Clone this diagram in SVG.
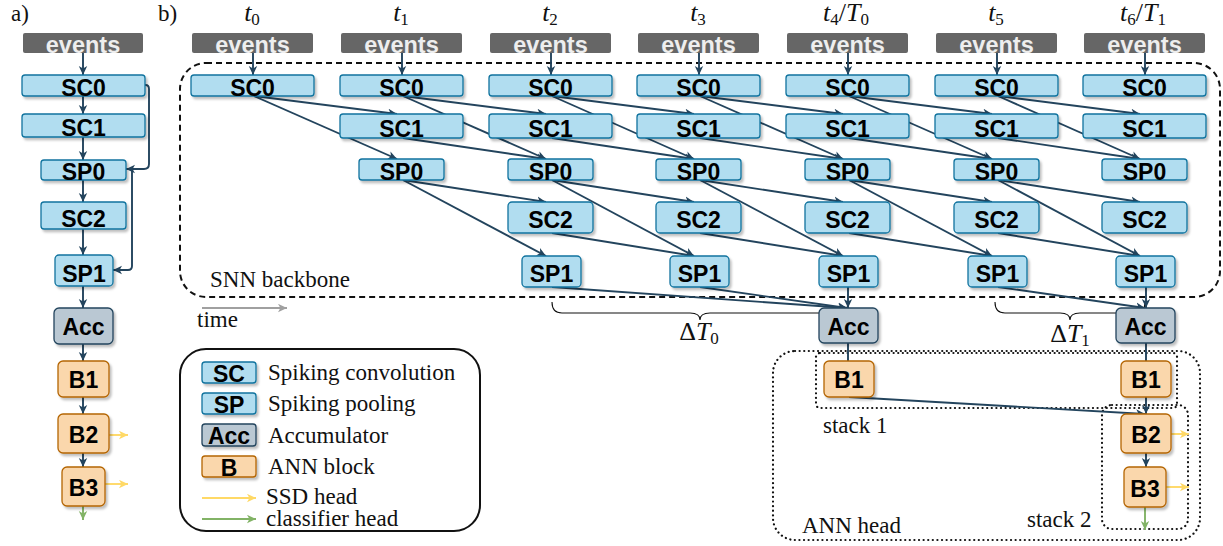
<svg xmlns="http://www.w3.org/2000/svg" width="1223" height="546" viewBox="0 0 1223 546">
<style>
.sc{fill:#b1ddf0;stroke:#10739e;stroke-width:1.3;filter:url(#sh)}
.acc{fill:#bac8d3;stroke:#23445d;stroke-width:1.3;filter:url(#sh)}
.bb{fill:#fad7ac;stroke:#b46504;stroke-width:1.3;filter:url(#sh)}
.ev{fill:#666666;stroke:none}
.lb{font-family:"Liberation Sans",Arial,sans-serif;font-weight:bold;font-size:23px;text-anchor:middle;fill:#000}
.evt{font-family:"Liberation Sans",Arial,sans-serif;font-weight:bold;font-size:23.5px;text-anchor:middle;fill:#eeeeee}
.tx{font-family:"Liberation Serif","Times New Roman",serif;font-size:23px;fill:#111}
.mt{font-family:"Liberation Serif","Times New Roman",serif;font-size:26px;fill:#111;text-anchor:middle}
.c{fill:none;stroke:#23445d;stroke-width:1.9;marker-end:url(#ad)}
.cp{fill:none;stroke:#23445d;stroke-width:1.9}
.cy{fill:none;stroke:#ffd966;stroke-width:1.9;marker-end:url(#ay)}
.cg{fill:none;stroke:#82b366;stroke-width:1.9;marker-end:url(#ag)}
.dot{fill:none;stroke:#111;stroke-width:2.2;stroke-dasharray:0.1 4.5;stroke-linecap:round}
</style>
<defs>
<filter id="sh" x="-20%" y="-20%" width="150%" height="160%"><feDropShadow dx="2" dy="2.5" stdDeviation="0.8" flood-color="#000" flood-opacity="0.25"/></filter>
<marker id="ad" markerWidth="10" markerHeight="10" refX="9" refY="4.5" orient="auto" markerUnits="userSpaceOnUse"><path d="M0,0.3 L9,4.5 L0,8.7 L2.4,4.5 Z" fill="#23445d"/></marker>
<marker id="ay" markerWidth="10" markerHeight="10" refX="9" refY="4.5" orient="auto" markerUnits="userSpaceOnUse"><path d="M0,0.3 L9,4.5 L0,8.7 L2.4,4.5 Z" fill="#ffd966"/></marker>
<marker id="ag" markerWidth="10" markerHeight="10" refX="9" refY="4.5" orient="auto" markerUnits="userSpaceOnUse"><path d="M0,0.3 L9,4.5 L0,8.7 L2.4,4.5 Z" fill="#82b366"/></marker>
<marker id="agr" markerWidth="10" markerHeight="10" refX="9" refY="4.5" orient="auto" markerUnits="userSpaceOnUse"><path d="M0,0.3 L9,4.5 L0,8.7 L2.4,4.5 Z" fill="#a0a0a0"/></marker>
</defs>
<rect width="1223" height="546" fill="#ffffff"/>

<!-- panel labels -->
<text class="tx" x="11" y="21" font-size="22">a)</text>
<text class="tx" x="158" y="21" font-size="22">b)</text>

<!-- time labels -->
<g id="time-labels">
<text class="mt" x="252" y="21"><tspan font-style="italic">t</tspan><tspan dy="4" font-size="17">0</tspan></text>
<text class="mt" x="401" y="21"><tspan font-style="italic">t</tspan><tspan dy="4" font-size="17">1</tspan></text>
<text class="mt" x="550" y="21"><tspan font-style="italic">t</tspan><tspan dy="4" font-size="17">2</tspan></text>
<text class="mt" x="698" y="21"><tspan font-style="italic">t</tspan><tspan dy="4" font-size="17">3</tspan></text>
<text class="mt" x="846" y="21"><tspan font-style="italic">t</tspan><tspan dy="4" font-size="17">4</tspan><tspan dy="-4">/</tspan><tspan font-style="italic">T</tspan><tspan dy="4" font-size="17">0</tspan></text>
<text class="mt" x="996" y="21"><tspan font-style="italic">t</tspan><tspan dy="4" font-size="17">5</tspan></text>
<text class="mt" x="1143" y="21"><tspan font-style="italic">t</tspan><tspan dy="4" font-size="17">6</tspan><tspan dy="-4">/</tspan><tspan font-style="italic">T</tspan><tspan dy="4" font-size="17">1</tspan></text>
</g>

<!-- group boxes -->
<g id="snn-backbone">
<rect x="180" y="63" width="1040" height="234" rx="26" fill="none" stroke="#111" stroke-width="2" stroke-dasharray="6 4"/>
<text class="tx" x="210" y="287">SNN backbone</text>
</g>
<g id="time-arrow">
<line x1="202" y1="308" x2="287" y2="308" stroke="#a0a0a0" stroke-width="1.9" marker-end="url(#agr)"/>
<text class="tx" x="197" y="327">time</text>
</g>
<g id="ann-head">
<rect x="773" y="351" width="427" height="189" rx="22" class="dot"/>
<text class="tx" x="802" y="533">ANN head</text>
</g>
<g id="stack1">
<rect x="816" y="353" width="361" height="55" rx="4" class="dot"/>
<text class="tx" x="823" y="433">stack 1</text>
</g>
<g id="stack2">
<rect x="1102" y="405" width="86" height="124" rx="10" class="dot"/>
<text class="tx" x="1027" y="527">stack 2</text>
</g>
<g id="braces">
<path d="M552,302 Q552,313 562,313 L690,313 Q700,313 700,320 Q700,313 710,313 L838,313 Q848,313 848,302" fill="none" stroke="#111" stroke-width="1.1"/>
<text class="mt" x="699" y="340">Δ<tspan font-style="italic">T</tspan><tspan dy="4" font-size="17">0</tspan></text>
<path d="M995,302 Q995,313 1005,313 L1060,313 Q1070,313 1070,320 Q1070,313 1080,313 L1135,313 Q1145,313 1145,302" fill="none" stroke="#111" stroke-width="1.1"/>
<text class="mt" x="1070" y="342">Δ<tspan font-style="italic">T</tspan><tspan dy="4" font-size="17">1</tspan></text>
</g>

<!-- connectors -->
<g id="connectors">
<!-- panel a -->
<line class="c" x1="83" y1="53" x2="83" y2="75"/>
<line class="c" x1="83" y1="96" x2="83" y2="114"/>
<line class="c" x1="83" y1="137" x2="83" y2="160"/>
<line class="c" x1="83" y1="180" x2="83" y2="202"/>
<line class="c" x1="83" y1="229" x2="83" y2="255"/>
<line class="c" x1="83" y1="286" x2="83" y2="308"/>
<line class="c" x1="83" y1="344" x2="83" y2="361"/>
<line class="c" x1="83" y1="397" x2="83" y2="414"/>
<line class="c" x1="83" y1="453" x2="83" y2="467"/>
<line class="cg" x1="83" y1="506" x2="83" y2="520"/>
<line class="cy" x1="109" y1="435" x2="128" y2="435"/>
<line class="cy" x1="105" y1="484" x2="128" y2="484"/>
<path class="c" d="M145,85 L145.5,85 Q149,85 149,89 L149,164 Q149,169 144,169 L126,169"/>
<path class="c" d="M132,171 L132,266 Q132,270 128,270 L113,270"/>
<!-- panel b: events -> SC0 -->
<line class="c" x1="253" y1="53" x2="253" y2="75"/>
<line class="c" x1="402" y1="53" x2="402" y2="75"/>
<line class="c" x1="551" y1="53" x2="551" y2="75"/>
<line class="c" x1="699" y1="53" x2="699" y2="75"/>
<line class="c" x1="848" y1="53" x2="848" y2="75"/>
<line class="c" x1="997" y1="53" x2="997" y2="75"/>
<line class="c" x1="1145" y1="53" x2="1145" y2="75"/>
<!-- SC0 -> SC1 -->
<line class="c" x1="254" y1="96" x2="397" y2="114"/>
<line class="c" x1="403" y1="96" x2="546" y2="114"/>
<line class="c" x1="552" y1="96" x2="694" y2="114"/>
<line class="c" x1="700" y1="96" x2="843" y2="114"/>
<line class="c" x1="849" y1="96" x2="992" y2="114"/>
<line class="c" x1="998" y1="96" x2="1140" y2="114"/>
<!-- SC0 -> SP0 -->
<line class="c" x1="254" y1="96" x2="397" y2="159"/>
<line class="c" x1="403" y1="96" x2="546" y2="159"/>
<line class="c" x1="552" y1="96" x2="694" y2="159"/>
<line class="c" x1="700" y1="96" x2="843" y2="159"/>
<line class="c" x1="849" y1="96" x2="992" y2="159"/>
<line class="c" x1="998" y1="96" x2="1140" y2="159"/>
<!-- SC1 -> SP0 -->
<line class="c" x1="403" y1="138" x2="546" y2="159"/>
<line class="c" x1="552" y1="138" x2="694" y2="159"/>
<line class="c" x1="700" y1="138" x2="843" y2="159"/>
<line class="c" x1="849" y1="138" x2="992" y2="159"/>
<line class="c" x1="998" y1="138" x2="1140" y2="159"/>
<!-- SP0 -> SC2 -->
<line class="c" x1="403" y1="180" x2="546" y2="202"/>
<line class="c" x1="552" y1="180" x2="694" y2="202"/>
<line class="c" x1="700" y1="180" x2="843" y2="202"/>
<line class="c" x1="849" y1="180" x2="992" y2="202"/>
<line class="c" x1="998" y1="180" x2="1140" y2="202"/>
<!-- SP0 -> SP1 -->
<line class="c" x1="403" y1="180" x2="546" y2="256"/>
<line class="c" x1="552" y1="180" x2="694" y2="256"/>
<line class="c" x1="700" y1="180" x2="843" y2="256"/>
<line class="c" x1="849" y1="180" x2="992" y2="256"/>
<line class="c" x1="998" y1="180" x2="1140" y2="256"/>
<!-- SC2 -> SP1 -->
<line class="c" x1="552" y1="233" x2="694" y2="256"/>
<line class="c" x1="700" y1="233" x2="843" y2="256"/>
<line class="c" x1="849" y1="233" x2="992" y2="256"/>
<line class="c" x1="998" y1="233" x2="1140" y2="256"/>
<!-- SP1 -> Acc -->
<line class="c" x1="552" y1="287" x2="847" y2="308"/>
<line class="c" x1="700" y1="287" x2="847" y2="308"/>
<line class="c" x1="848" y1="287" x2="848" y2="308"/>
<line class="c" x1="998" y1="287" x2="1145" y2="308"/>
<line class="c" x1="1146" y1="287" x2="1146" y2="308"/>
<!-- ANN head -->
<line class="cp" x1="848" y1="343" x2="848" y2="361"/>
<line class="cp" x1="1146" y1="343" x2="1146" y2="361"/>
<line class="c" x1="849" y1="397" x2="1145" y2="414"/>
<line class="c" x1="1146" y1="397" x2="1146" y2="414"/>
<line class="c" x1="1146" y1="453" x2="1146" y2="467"/>
<line class="cy" x1="1171" y1="434" x2="1189" y2="434"/>
<line class="cy" x1="1166" y1="487" x2="1189" y2="487"/>
<line class="cg" x1="1145" y1="507" x2="1145" y2="530"/>
</g>

<!-- panel a nodes -->
<g id="a-events"><rect class="ev" x="23" y="33" width="120" height="20" rx="2"/><text class="evt" x="83" y="53">events</text></g>
<g id="a-SC0"><rect class="sc" x="22" y="75" width="123" height="21" rx="3"/><text class="lb" x="83.5" y="96">SC0</text></g>
<g id="a-SC1"><rect class="sc" x="22" y="114" width="123" height="23" rx="3"/><text class="lb" x="83.5" y="136">SC1</text></g>
<g id="a-SP0"><rect class="sc" x="41" y="160" width="85" height="20" rx="3"/><text class="lb" x="83.5" y="180">SP0</text></g>
<g id="a-SC2"><rect class="sc" x="41" y="202" width="85" height="27" rx="3"/><text class="lb" x="83.5" y="227">SC2</text></g>
<g id="a-SP1"><rect class="sc" x="55" y="255" width="58" height="31" rx="4"/><text class="lb" x="84" y="282">SP1</text></g>
<g id="a-Acc"><rect class="acc" x="54" y="308" width="59" height="36" rx="5"/><text class="lb" x="83.5" y="335">Acc</text></g>
<g id="a-B1"><rect class="bb" x="58" y="361" width="51" height="36" rx="5"/><text class="lb" x="83.5" y="388">B1</text></g>
<g id="a-B2"><rect class="bb" x="58" y="414" width="51" height="39" rx="5"/><text class="lb" x="83.5" y="443">B2</text></g>
<g id="a-B3"><rect class="bb" x="62" y="467" width="43" height="39" rx="5"/><text class="lb" x="83.5" y="496">B3</text></g>

<!-- panel b nodes: events -->
<g id="b-events-t0"><rect class="ev" x="192" y="33" width="121" height="20" rx="2"/><text class="evt" x="252.5" y="53">events</text></g>
<g id="b-events-t1"><rect class="ev" x="341" y="33" width="121" height="20" rx="2"/><text class="evt" x="401.5" y="53">events</text></g>
<g id="b-events-t2"><rect class="ev" x="490" y="33" width="121" height="20" rx="2"/><text class="evt" x="550.5" y="53">events</text></g>
<g id="b-events-t3"><rect class="ev" x="638" y="33" width="121" height="20" rx="2"/><text class="evt" x="698.5" y="53">events</text></g>
<g id="b-events-t4"><rect class="ev" x="787" y="33" width="121" height="20" rx="2"/><text class="evt" x="847.5" y="53">events</text></g>
<g id="b-events-t5"><rect class="ev" x="936" y="33" width="121" height="20" rx="2"/><text class="evt" x="996.5" y="53">events</text></g>
<g id="b-events-t6"><rect class="ev" x="1084" y="33" width="121" height="20" rx="2"/><text class="evt" x="1144.5" y="53">events</text></g>

<!-- SC0 -->
<g id="b-SC0-t0"><rect class="sc" x="191" y="75" width="123" height="21" rx="3"/><text class="lb" x="252.5" y="96">SC0</text></g>
<g id="b-SC0-t1"><rect class="sc" x="340" y="75" width="123" height="21" rx="3"/><text class="lb" x="401.5" y="96">SC0</text></g>
<g id="b-SC0-t2"><rect class="sc" x="489" y="75" width="123" height="21" rx="3"/><text class="lb" x="550.5" y="96">SC0</text></g>
<g id="b-SC0-t3"><rect class="sc" x="637" y="75" width="123" height="21" rx="3"/><text class="lb" x="698.5" y="96">SC0</text></g>
<g id="b-SC0-t4"><rect class="sc" x="786" y="75" width="123" height="21" rx="3"/><text class="lb" x="847.5" y="96">SC0</text></g>
<g id="b-SC0-t5"><rect class="sc" x="935" y="75" width="123" height="21" rx="3"/><text class="lb" x="996.5" y="96">SC0</text></g>
<g id="b-SC0-t6"><rect class="sc" x="1083" y="75" width="123" height="21" rx="3"/><text class="lb" x="1144.5" y="96">SC0</text></g>

<!-- SC1 -->
<g id="b-SC1-t1"><rect class="sc" x="340" y="114" width="123" height="24" rx="3"/><text class="lb" x="401.5" y="137">SC1</text></g>
<g id="b-SC1-t2"><rect class="sc" x="489" y="114" width="123" height="24" rx="3"/><text class="lb" x="550.5" y="137">SC1</text></g>
<g id="b-SC1-t3"><rect class="sc" x="637" y="114" width="123" height="24" rx="3"/><text class="lb" x="698.5" y="137">SC1</text></g>
<g id="b-SC1-t4"><rect class="sc" x="786" y="114" width="123" height="24" rx="3"/><text class="lb" x="847.5" y="137">SC1</text></g>
<g id="b-SC1-t5"><rect class="sc" x="935" y="114" width="123" height="24" rx="3"/><text class="lb" x="996.5" y="137">SC1</text></g>
<g id="b-SC1-t6"><rect class="sc" x="1083" y="114" width="123" height="24" rx="3"/><text class="lb" x="1144.5" y="137">SC1</text></g>

<!-- SP0 -->
<g id="b-SP0-t1"><rect class="sc" x="359" y="159" width="85" height="21" rx="3"/><text class="lb" x="401.5" y="180">SP0</text></g>
<g id="b-SP0-t2"><rect class="sc" x="508" y="159" width="85" height="21" rx="3"/><text class="lb" x="550.5" y="180">SP0</text></g>
<g id="b-SP0-t3"><rect class="sc" x="656" y="159" width="85" height="21" rx="3"/><text class="lb" x="698.5" y="180">SP0</text></g>
<g id="b-SP0-t4"><rect class="sc" x="805" y="159" width="85" height="21" rx="3"/><text class="lb" x="847.5" y="180">SP0</text></g>
<g id="b-SP0-t5"><rect class="sc" x="954" y="159" width="85" height="21" rx="3"/><text class="lb" x="996.5" y="180">SP0</text></g>
<g id="b-SP0-t6"><rect class="sc" x="1102" y="159" width="85" height="21" rx="3"/><text class="lb" x="1144.5" y="180">SP0</text></g>

<!-- SC2 -->
<g id="b-SC2-t2"><rect class="sc" x="508" y="202" width="85" height="31" rx="4"/><text class="lb" x="550.5" y="228">SC2</text></g>
<g id="b-SC2-t3"><rect class="sc" x="656" y="202" width="85" height="31" rx="4"/><text class="lb" x="698.5" y="228">SC2</text></g>
<g id="b-SC2-t4"><rect class="sc" x="805" y="202" width="85" height="31" rx="4"/><text class="lb" x="847.5" y="228">SC2</text></g>
<g id="b-SC2-t5"><rect class="sc" x="954" y="202" width="85" height="31" rx="4"/><text class="lb" x="996.5" y="228">SC2</text></g>
<g id="b-SC2-t6"><rect class="sc" x="1102" y="202" width="85" height="31" rx="4"/><text class="lb" x="1144.5" y="228">SC2</text></g>

<!-- SP1 -->
<g id="b-SP1-t2"><rect class="sc" x="522" y="256" width="59" height="31" rx="4"/><text class="lb" x="551.5" y="282">SP1</text></g>
<g id="b-SP1-t3"><rect class="sc" x="670" y="256" width="59" height="31" rx="4"/><text class="lb" x="699.5" y="282">SP1</text></g>
<g id="b-SP1-t4"><rect class="sc" x="819" y="256" width="59" height="31" rx="4"/><text class="lb" x="848.5" y="282">SP1</text></g>
<g id="b-SP1-t5"><rect class="sc" x="968" y="256" width="59" height="31" rx="4"/><text class="lb" x="997.5" y="282">SP1</text></g>
<g id="b-SP1-t6"><rect class="sc" x="1116" y="256" width="59" height="31" rx="4"/><text class="lb" x="1145.5" y="282">SP1</text></g>

<!-- Acc / B -->
<g id="b-Acc-t4"><rect class="acc" x="819" y="308" width="59" height="35" rx="5"/><text class="lb" x="848.5" y="335">Acc</text></g>
<g id="b-Acc-t6"><rect class="acc" x="1116" y="308" width="59" height="35" rx="5"/><text class="lb" x="1145.5" y="335">Acc</text></g>
<g id="b-B1-t4"><rect class="bb" x="824" y="361" width="50" height="36" rx="5"/><text class="lb" x="849" y="388">B1</text></g>
<g id="b-B1-t6"><rect class="bb" x="1121" y="361" width="50" height="36" rx="5"/><text class="lb" x="1146" y="388">B1</text></g>
<g id="b-B2-t6"><rect class="bb" x="1121" y="414" width="50" height="39" rx="5"/><text class="lb" x="1146" y="443">B2</text></g>
<g id="b-B3-t6"><rect class="bb" x="1124" y="467" width="42" height="40" rx="5"/><text class="lb" x="1145" y="497">B3</text></g>

<!-- legend -->
<g id="legend">
<rect x="180" y="349" width="300" height="182" rx="26" fill="none" stroke="#111" stroke-width="2"/>
<rect class="sc" x="202" y="362" width="54" height="21" rx="3"/><text class="lb" x="229" y="382">SC</text>
<text class="tx" x="268" y="380">Spiking convolution</text>
<rect class="sc" x="202" y="393" width="54" height="21" rx="3"/><text class="lb" x="229" y="413">SP</text>
<text class="tx" x="268" y="411">Spiking pooling</text>
<rect class="acc" x="202" y="424" width="54" height="22" rx="3"/><text class="lb" x="229" y="444">Acc</text>
<text class="tx" x="268" y="443">Accumulator</text>
<rect class="bb" x="202" y="456" width="54" height="21" rx="3"/><text class="lb" x="229" y="476">B</text>
<text class="tx" x="268" y="474">ANN block</text>
<line class="cy" x1="202" y1="498" x2="256" y2="498"/>
<text class="tx" x="266" y="504">SSD head</text>
<line class="cg" x1="202" y1="519" x2="256" y2="519"/>
<text class="tx" x="266" y="526">classifier head</text>
</g>
</svg>
